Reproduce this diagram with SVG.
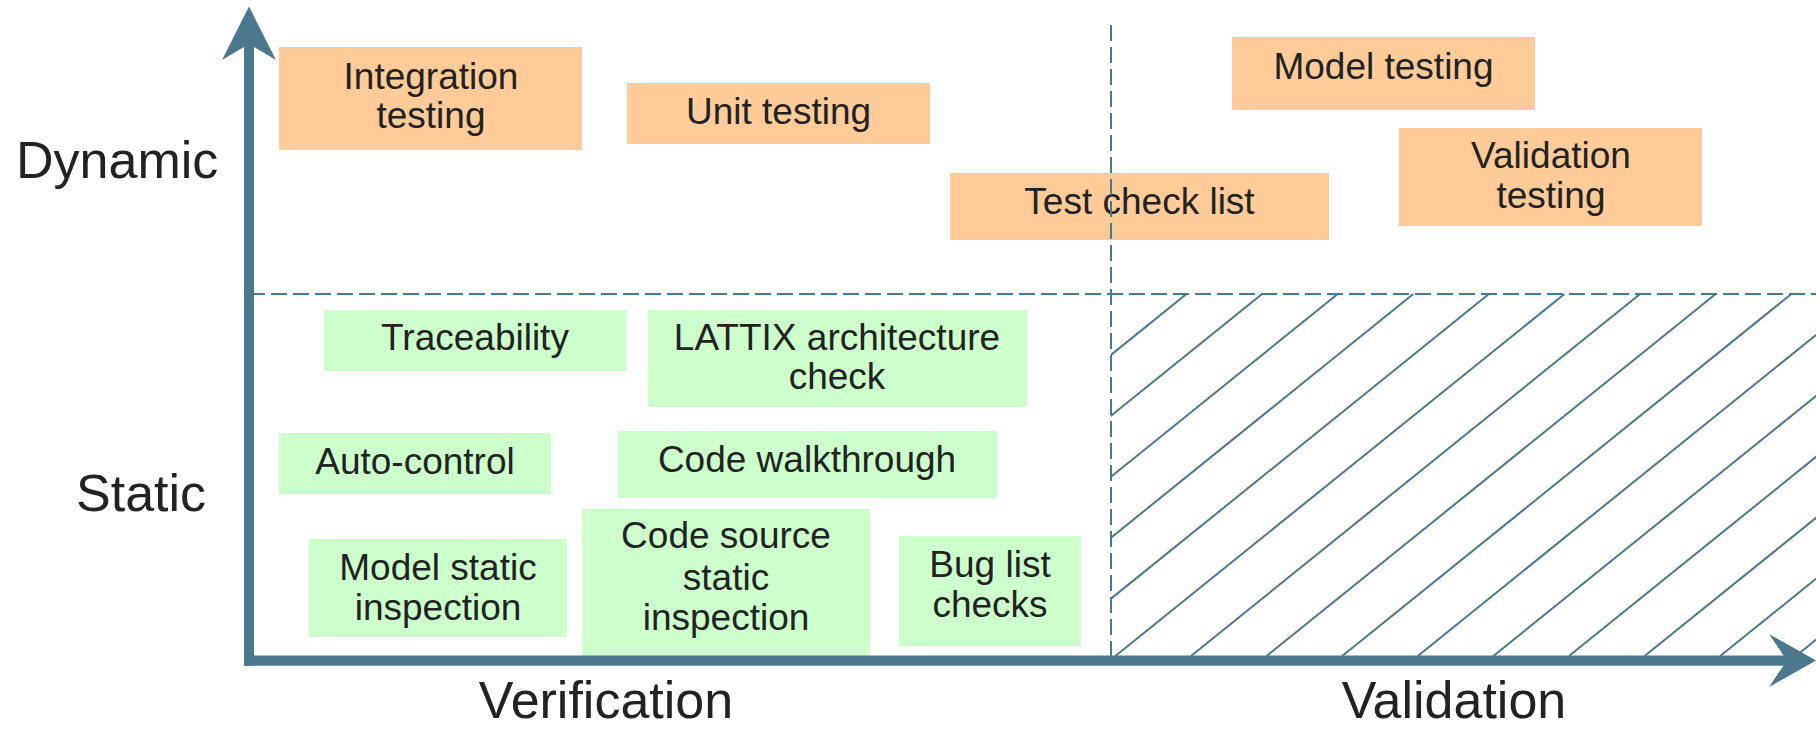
<svg xmlns="http://www.w3.org/2000/svg" width="1816" height="729" viewBox="0 0 1816 729">
  <style>
    .dyn { fill: #FFCC99; }
    .sta { fill: #CCFFCC; }
    .lbl { font-family: "Liberation Sans", Arial, Helvetica, sans-serif; font-size: 37px; fill: #222222; text-anchor: middle; }
    .axis-lbl { font-family: "Liberation Sans", Arial, Helvetica, sans-serif; font-size: 52px; fill: #222222; }
    .grid { stroke: #4A788C; stroke-width: 2; stroke-dasharray: 16 6; fill: none; }
    .hatch { stroke: #4A788C; stroke-width: 2; }
    .axis { fill: #4A788C; }
  </style>
  <defs>
    <clipPath id="hatch-area">
      <rect x="1111" y="294" width="705" height="366"/>
    </clipPath>
  </defs>

  <rect width="1816" height="729" fill="#ffffff"/>

  <!-- hatched quadrant: static validation -->
  <g id="hatching" clip-path="url(#hatch-area)">
    <line class="hatch" x1="1186.5" y1="294" x2="737.4" y2="656"/>
    <line class="hatch" x1="1262.1" y1="294" x2="813.0" y2="656"/>
    <line class="hatch" x1="1337.7" y1="294" x2="888.6" y2="656"/>
    <line class="hatch" x1="1413.3" y1="294" x2="964.2" y2="656"/>
    <line class="hatch" x1="1488.9" y1="294" x2="1039.8" y2="656"/>
    <line class="hatch" x1="1564.5" y1="294" x2="1115.4" y2="656"/>
    <line class="hatch" x1="1640.1" y1="294" x2="1191.0" y2="656"/>
    <line class="hatch" x1="1715.7" y1="294" x2="1266.6" y2="656"/>
    <line class="hatch" x1="1791.3" y1="294" x2="1342.2" y2="656"/>
    <line class="hatch" x1="1866.9" y1="294" x2="1417.8" y2="656"/>
    <line class="hatch" x1="1942.5" y1="294" x2="1493.4" y2="656"/>
    <line class="hatch" x1="2018.1" y1="294" x2="1569.0" y2="656"/>
    <line class="hatch" x1="2093.7" y1="294" x2="1644.6" y2="656"/>
    <line class="hatch" x1="2169.3" y1="294" x2="1720.2" y2="656"/>
    <line class="hatch" x1="2244.9" y1="294" x2="1795.8" y2="656"/>
  </g>

  <!-- dynamic activities -->
  <g id="integration-testing">
    <rect class="dyn" x="279" y="47" width="303" height="103"/>
    <text class="lbl" x="431" y="89">Integration</text>
    <text class="lbl" x="431" y="128">testing</text>
  </g>
  <g id="unit-testing">
    <rect class="dyn" x="627" y="83" width="303" height="61"/>
    <text class="lbl" x="778.5" y="124">Unit testing</text>
  </g>
  <g id="model-testing">
    <rect class="dyn" x="1232" y="37" width="303" height="73"/>
    <text class="lbl" x="1383.5" y="79">Model testing</text>
  </g>
  <g id="test-check-list">
    <rect class="dyn" x="950" y="173" width="379" height="67"/>
    <text class="lbl" x="1139.5" y="214">Test check list</text>
  </g>
  <g id="validation-testing">
    <rect class="dyn" x="1399" y="128" width="303" height="98"/>
    <text class="lbl" x="1551" y="168">Validation</text>
    <text class="lbl" x="1551" y="208">testing</text>
  </g>

  <!-- static activities -->
  <g id="traceability">
    <rect class="sta" x="324" y="310" width="302.5" height="61"/>
    <text class="lbl" x="475" y="350">Traceability</text>
  </g>
  <g id="lattix-check">
    <rect class="sta" x="648" y="310" width="379" height="97"/>
    <text class="lbl" x="837" y="350">LATTIX architecture</text>
    <text class="lbl" x="837" y="389">check</text>
  </g>
  <g id="auto-control">
    <rect class="sta" x="279" y="433" width="272" height="61"/>
    <text class="lbl" x="415" y="474">Auto-control</text>
  </g>
  <g id="code-walkthrough">
    <rect class="sta" x="618" y="431" width="379" height="67"/>
    <text class="lbl" x="807" y="472">Code walkthrough</text>
  </g>
  <g id="model-static-inspection">
    <rect class="sta" x="309" y="539" width="258" height="98"/>
    <text class="lbl" x="438" y="580">Model static</text>
    <text class="lbl" x="438" y="620">inspection</text>
  </g>
  <g id="code-source-static-inspection">
    <rect class="sta" x="582" y="509" width="288" height="147"/>
    <text class="lbl" x="726" y="548">Code source</text>
    <text class="lbl" x="726" y="590">static</text>
    <text class="lbl" x="726" y="630">inspection</text>
  </g>
  <g id="bug-list-checks">
    <rect class="sta" x="899" y="536" width="182" height="110"/>
    <text class="lbl" x="990" y="577">Bug list</text>
    <text class="lbl" x="990" y="617">checks</text>
  </g>

  <!-- quadrant separators and axes -->
  <g id="connectors">
    <line class="grid" x1="249" y1="294" x2="1816" y2="294"/>
    <line class="grid" x1="1111" y1="25" x2="1111" y2="660"/>
    <rect class="axis" x="244" y="42" width="10" height="623.7"/>
    <polygon class="axis" points="249,6.5 276,60 249,44 222,60"/>
    <rect class="axis" x="244" y="655.5" width="1545" height="10.2"/>
    <polygon class="axis" points="1816,660.6 1769,634 1787,660.6 1769,687"/>
  </g>

  <!-- axis labels -->
  <g id="axis-labels">
    <text class="axis-lbl" x="16" y="178">Dynamic</text>
    <text class="axis-lbl" x="76" y="511">Static</text>
    <text class="axis-lbl" x="606" y="718" text-anchor="middle" font-size="51">Verification</text>
    <text class="axis-lbl" x="1454" y="718" text-anchor="middle" font-size="51">Validation</text>
  </g>
</svg>
